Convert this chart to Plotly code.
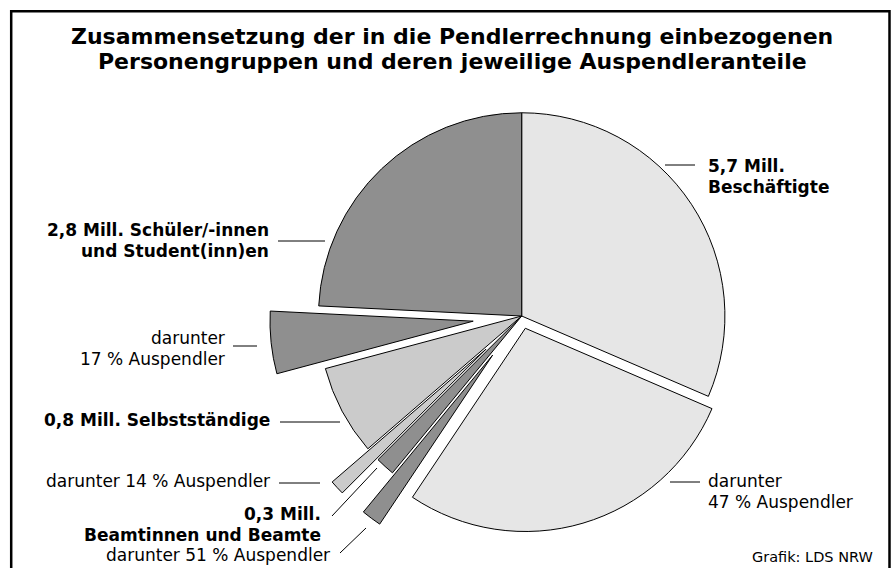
import plotly.graph_objects as go

W, H = 896, 568

# ---- data ----
group_names = ["Beschäftigte", "Beamtinnen und Beamte", "Selbstständige",
               "Schüler/-innen und Student(inn)en"]
totals_mill = [5.7, 0.3, 0.8, 2.8]          # Mill. persons
commuter_pct = [47, 51, 14, 17]              # % Auspendler

# slice order (clockwise from 12 o'clock)
slice_labels = [
    "Beschäftigte – übrige", "Beschäftigte – Auspendler",
    "Beamte – Auspendler", "Beamte – übrige",
    "Selbstständige – Auspendler", "Selbstständige – übrige",
    "Schüler/Studenten – Auspendler", "Schüler/Studenten – übrige",
]
comm = [t * p / 100 for t, p in zip(totals_mill, commuter_pct)]
rest = [t - c for t, c in zip(totals_mill, comm)]
slice_values = [rest[0], comm[0], comm[1], rest[1], comm[2], rest[2], comm[3], rest[3]]

LIGHT, MID, DARK = "#e6e6e6", "#cbcbcb", "#8f8f8f"
slice_colors = [LIGHT, LIGHT, DARK, DARK, MID, MID, DARK, DARK]
slice_pull = [0, 0.063, 0.24, 0, 0.24, 0, 0.24, 0]

FONT = "DejaVu Sans"


def px(x):
    return x / W


def py(y):
    return 1 - y / H


def mill(v):
    return f"{v:.1f}".replace(".", ",") + " Mill."


# pie box: centre (521.7, 316), half size 252
cx, cy, half = 521.7, 316, 252
fig = go.Figure(go.Pie(
    labels=slice_labels, values=slice_values, sort=False,
    direction="clockwise", rotation=0,
    marker=dict(colors=slice_colors, line=dict(color="black", width=1)),
    pull=slice_pull, textinfo="none", hoverinfo="label+value",
    showlegend=False,
    domain=dict(x=[px(cx - half), px(cx + half)], y=[py(cy + half), py(cy - half)]),
))

annotations = []


def ann(text, x, y, xanchor, size, bold=False):
    if bold:
        text = "<b>" + text + "</b>"
    annotations.append(dict(
        text=text, x=px(x), y=py(y), xref="paper", yref="paper",
        xanchor=xanchor, yanchor="middle", showarrow=False,
        font=dict(family=FONT, size=size, color="black"),
    ))


# title
ann("Zusammensetzung der in die Pendlerrechnung einbezogenen", 452, 37, "center", 22, True)
ann("Personengruppen und deren jeweilige Auspendleranteile", 452, 61, "center", 22, True)

LS = 17
# right side labels
ann(mill(totals_mill[0]), 706, 166, "left", LS, True)
ann(group_names[0], 706, 187, "left", LS, True)
ann("darunter", 706, 481, "left", LS)
ann(f"{commuter_pct[0]} % Auspendler", 706, 502, "left", LS)
# left side labels
ann(mill(totals_mill[3]) + " Schüler/-innen", 271, 230, "right", LS, True)
ann("und Student(inn)en", 271, 251, "right", LS, True)
ann("darunter", 227, 338, "right", LS)
ann(f"{commuter_pct[3]} % Auspendler", 227, 359, "right", LS)
ann(mill(totals_mill[2]) + " " + group_names[2], 272, 420, "right", LS, True)
ann(f"darunter {commuter_pct[2]} % Auspendler", 272, 481, "right", LS)
ann(mill(totals_mill[1]), 323, 514, "right", LS, True)
ann(group_names[1], 323, 535, "right", LS, True)
ann(f"darunter {commuter_pct[1]} % Auspendler", 332, 555, "right", LS)
ann("Grafik: LDS NRW", 875, 557, "right", 14.5)

# leader lines
leaders = [
    (665, 165, 695, 165),
    (670, 482, 700, 482),
    (278, 241, 325, 241),
    (233, 346, 257, 346),
    (280, 422, 340, 422),
    (279, 483, 320, 483),
    (332, 516, 377, 468),
    (340, 553, 366, 528),
]
shapes = [dict(type="line", xref="paper", yref="paper",
               x0=px(a), y0=py(b), x1=px(c), y1=py(d),
               line=dict(color="black", width=1)) for a, b, c, d in leaders]
# frame
shapes.append(dict(type="rect", xref="paper", yref="paper",
                   x0=px(11.2), x1=px(889.5), y0=py(H + 10), y1=py(11.2),
                   line=dict(color="black", width=2.5), fillcolor="rgba(0,0,0,0)"))

fig.update_layout(
    width=W, height=H, margin=dict(l=0, r=0, t=0, b=0),
    paper_bgcolor="white", plot_bgcolor="white",
    annotations=annotations, shapes=shapes,
)
fig.write_html("out.html", config={"displayModeBar": False},
               post_script="document.body.style.margin='0';document.body.style.overflow='hidden';")
